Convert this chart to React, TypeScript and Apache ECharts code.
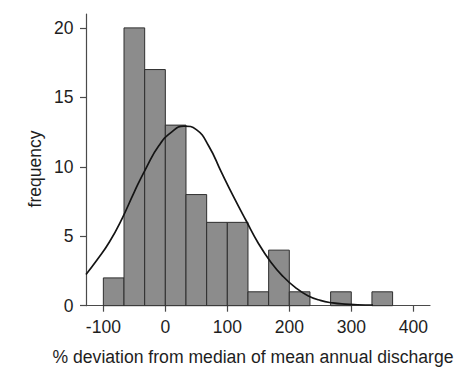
import React, { useEffect, useRef } from "react";
import * as echarts from "echarts";

// Histogram bins (lower / upper edge, % deviation) and their counts
const binLower = [-100, -66.67, -33.33, 0, 33.33, 66.67, 100, 133.33, 166.67, 200, 233.33, 266.67, 300, 333.33];
const binUpper = [-66.67, -33.33, 0, 33.33, 66.67, 100, 133.33, 166.67, 200, 233.33, 266.67, 300, 333.33, 366.67];
const counts = [2, 20, 17, 13, 8, 6, 6, 1, 4, 1, 0, 1, 0, 1];

// Fitted normal curve, sampled along the x axis
const curveX = [-128, -110, -90, -70, -50, -30, -10, 10, 30, 50, 70, 90, 110, 130, 150, 170, 190, 210, 230, 250, 270, 290, 310, 335];
const curveY = [2.25, 3.3, 4.6, 6.25, 8.2, 10.0, 11.55, 12.5, 12.93, 12.68, 11.5, 9.65, 7.85, 6.15, 4.5, 3.15, 2.1, 1.3, 0.72, 0.38, 0.2, 0.11, 0.07, 0.05];

// Axis ticks
const xTicks = [-100, 0, 100, 200, 300, 400];
const yTicks = [0, 5, 10, 15, 20];

const FONT = "'Liberation Sans', Arial, Helvetica, sans-serif";
const TEXT = "#1e1e1e";
const AXIS = "#4a4a4a";

export default function App() {
  const ref = useRef<HTMLDivElement>(null);

  useEffect(() => {
    document.body.style.margin = "0";
    if (!ref.current) return;
    const chart = echarts.init(ref.current, null, { renderer: "svg" });

    const bins = binLower
      .map((lo, i) => [lo, binUpper[i], counts[i]])
      .filter((b) => b[2] > 0);

    chart.setOption({
      animation: false,
      backgroundColor: "#ffffff",
      grid: { left: 86, right: 42, top: 14, bottom: 61.3, containLabel: false },
      xAxis: {
        type: "value",
        min: -128,
        max: 427,
        splitLine: { show: false },
        axisLine: { show: true, onZero: false, lineStyle: { color: AXIS, width: 1.2 } },
        axisTick: { show: true, length: 6, customValues: xTicks, lineStyle: { color: AXIS, width: 1.2 } },
        axisLabel: {
          customValues: xTicks,
          margin: 12,
          color: TEXT,
          fontSize: 17.5,
          fontFamily: FONT,
        },
      },
      yAxis: {
        type: "value",
        min: 0,
        max: 21,
        splitLine: { show: false },
        axisLine: { show: true, onZero: false, lineStyle: { color: AXIS, width: 1.2 } },
        axisTick: { show: true, length: 6, customValues: yTicks, lineStyle: { color: AXIS, width: 1.2 } },
        axisLabel: {
          customValues: yTicks,
          margin: 12.5,
          color: TEXT,
          fontSize: 17.5,
          fontFamily: FONT,
        },
      },
      graphic: [
        {
          type: "text",
          x: 253,
          y: 356.5,
          style: {
            text: "% deviation from median of mean annual discharge",
            fill: TEXT,
            font: `17.6px ${FONT}`,
            align: "center",
            verticalAlign: "middle",
          },
        },
        {
          type: "text",
          x: 35,
          y: 169,
          rotation: Math.PI / 2,
          style: {
            text: "frequency",
            fill: TEXT,
            font: `17.5px ${FONT}`,
            align: "center",
            verticalAlign: "middle",
          },
        },
      ],
      series: [
        {
          type: "custom",
          z: 2,
          data: bins,
          renderItem: (params: any, api: any) => {
            const lo = api.value(0);
            const hi = api.value(1);
            const n = api.value(2);
            const p0 = api.coord([lo, n]);
            const p1 = api.coord([hi, 0]);
            return {
              type: "rect",
              shape: { x: p0[0], y: p0[1], width: p1[0] - p0[0], height: p1[1] - p0[1] },
              style: { fill: "#8c8c8c", stroke: "#2e2e2e", lineWidth: 1 },
            };
          },
        },
        {
          type: "line",
          z: 3,
          data: curveX.map((x, i) => [x, curveY[i]]),
          smooth: 0.5,
          showSymbol: false,
          symbol: "none",
          lineStyle: { color: "#141414", width: 1.7 },
        },
      ],
    });

    return () => chart.dispose();
  }, []);

  return (
    <div
      ref={ref}
      style={{ position: "fixed", left: 0, top: 0, width: 472, height: 367 }}
    />
  );
}
